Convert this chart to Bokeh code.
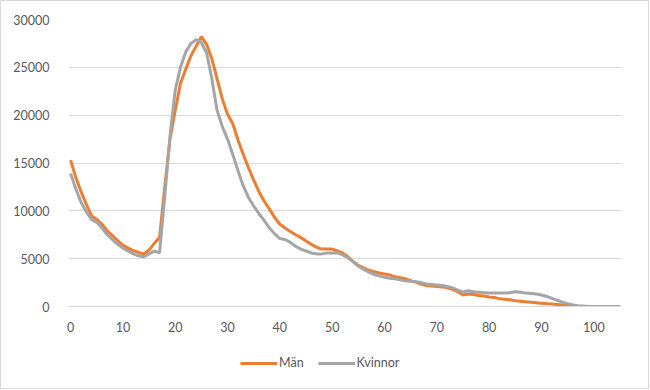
from bokeh.plotting import figure
from bokeh.layouts import column
from bokeh.models import Range1d, SingleIntervalTicker, Legend, LegendItem, FixedTicker
from bokeh.embed import file_html
from bokeh.resources import INLINE

ages = list(range(0, 106))

man = [15300, 13500, 12000, 10700, 9500, 9100, 8600, 7900, 7400, 6900,
       6400, 6100, 5850, 5650, 5500, 5900, 6600, 7200, 12500, 17500,
       20500, 23300, 24800, 26200, 27200, 28200, 27400, 25900, 23800, 21700,
       20100, 19100, 17400, 15900, 14500, 13200, 12000, 11000, 10200, 9300,
       8600, 8200, 7850, 7500, 7200, 6850, 6500, 6200, 6000, 6000,
       6000, 5800, 5600, 5200, 4700, 4300, 4050, 3800, 3650, 3500,
       3400, 3300, 3100, 3000, 2900, 2700, 2550, 2350, 2200, 2150,
       2100, 2050, 1950, 1800, 1550, 1200, 1300, 1250, 1150, 1100,
       1000, 950, 800, 750, 700, 600, 550, 500, 450, 400,
       350, 300, 250, 200, 150, 80, 40, 10, 0, 0,
       0, 0, 0, 0, 0, 0]

kvinnor = [13900, 12300, 10900, 9900, 9100, 8800, 8200, 7500, 7000, 6500,
           6100, 5800, 5500, 5300, 5200, 5500, 5800, 5600, 11500, 17800,
           22600, 25000, 26600, 27500, 27900, 27600, 26500, 23800, 20500, 18800,
           17500, 15900, 14200, 12600, 11400, 10500, 9700, 9000, 8200, 7600,
           7100, 7000, 6700, 6300, 6000, 5800, 5600, 5500, 5500, 5600,
           5600, 5600, 5400, 5100, 4700, 4200, 3900, 3600, 3350, 3200,
           3050, 2950, 2900, 2800, 2700, 2650, 2600, 2500, 2350, 2300,
           2250, 2200, 2100, 1950, 1700, 1500, 1650, 1550, 1500, 1450,
           1400, 1400, 1400, 1400, 1450, 1550, 1500, 1400, 1350, 1300,
           1200, 1050, 850, 650, 450, 300, 150, 80, 40, 10,
           0, 0, 0, 0, 0, 0]

x_ticks = [0, 10, 20, 30, 40, 50, 60, 70, 80, 90, 100]
series_names = ["Män", "Kvinnor"]
colors = ["#ED7D31", "#A5A5A5"]

FONT = "Lato"
TXT = "#595959"

p = figure(width=647, height=335, output_backend="svg", toolbar_location=None,
           x_range=Range1d(-0.4, 105.3), y_range=Range1d(0, 30000),
           min_border_left=67, min_border_right=27, min_border_top=18, min_border_bottom=30)

p.line(ages, man, line_color=colors[0], line_width=3)
p.line(ages, kvinnor, line_color=colors[1], line_width=3)

p.outline_line_color = None
p.background_fill_color = "white"
p.border_fill_color = "white"

p.xgrid.grid_line_color = None
p.ygrid.grid_line_color = "#D9D9D9"
p.ygrid.grid_line_width = 1

p.yaxis.ticker = SingleIntervalTicker(interval=5000)
p.xaxis.ticker = FixedTicker(ticks=x_ticks)
for ax in (p.xaxis, p.yaxis):
    ax.major_tick_line_color = None
    ax.minor_tick_line_color = None
    ax.major_label_text_font = FONT
    ax.major_label_text_font_size = "12.5px"
    ax.major_label_text_color = TXT
p.yaxis.axis_line_color = None
p.xaxis.axis_line_color = "#D9D9D9"
p.yaxis.major_label_standoff = 13
p.xaxis.major_label_standoff = 9

# legend strip below the chart (proxy renderers with a single point draw nothing)
lg = figure(width=647, height=52, output_backend="svg", toolbar_location=None,
            x_axis_type=None, y_axis_type=None,
            min_border_left=67, min_border_right=27, min_border_top=0, min_border_bottom=0)
lg.outline_line_color = None
lg.grid.grid_line_color = None
lg.border_fill_color = "white"
l1 = lg.line(x=ages[:1], y=man[:1], line_color=colors[0], line_width=3)
l2 = lg.line(x=ages[:1], y=kvinnor[:1], line_color=colors[1], line_width=3)

legend = Legend(items=[LegendItem(label=series_names[0], renderers=[l1]),
                       LegendItem(label=series_names[1], renderers=[l2])],
                orientation="horizontal", location=(172, 18),
                glyph_width=37, glyph_height=12, label_text_font=FONT,
                label_text_font_size="12.5px", label_text_color=TXT,
                label_standoff=2, spacing=14, padding=0, margin=0,
                label_height=14,
                border_line_color=None, background_fill_alpha=0)
lg.add_layout(legend, "center")

layout = column(p, lg, spacing=0, styles={"border": "1px solid #D9D9D9"})
open("out.html", "w").write(file_html(layout, INLINE))
